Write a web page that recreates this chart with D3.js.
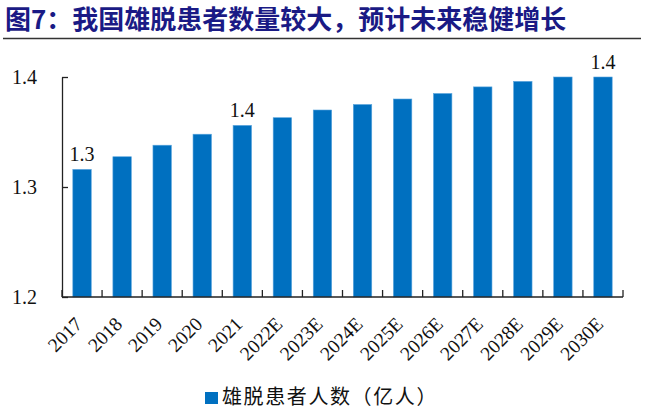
<!DOCTYPE html>
<html><head><meta charset="utf-8">
<script src="https://cdn.jsdelivr.net/npm/d3@7"></script>
<style>body{margin:0;background:#fff}svg{display:block}</style>
</head><body>
<script>
const categories = ["2017","2018","2019","2020","2021","2022E","2023E","2024E","2025E","2026E","2027E","2028E","2029E","2030E"];
const values = [1.316,1.3275,1.338,1.348,1.356,1.363,1.370,1.375,1.380,1.385,1.391,1.396,1.400,1.400];
const dataLabels = {"2017":"1.3","2021":"1.4","2030E":"1.4"};
const yTicks = [1.2,1.3,1.4];
const title = "图7：我国雄脱患者数量较大，预计未来稳健增长";
const seriesName = "雄脱患者人数（亿人）";

const W=649,H=411;
const svg=d3.select("body").append("svg").attr("width",W).attr("height",H);
const m={l:62,r:623,t:77,b:297};
const x=d3.scaleBand().domain(categories).range([m.l,m.r]).paddingInner(0.54).paddingOuter(0.27);
const y=d3.scaleLinear().domain([1.2,1.4]).range([m.b,m.t]);
const serif="'Liberation Serif','Times New Roman',serif";

svg.append("text").attr("x",5).attr("y",29).attr("font-family","'Noto Sans CJK SC',sans-serif")
  .attr("font-weight","bold").attr("font-size",26).attr("fill","#1a1a85").text(title);
svg.append("line").attr("x1",3).attr("x2",641).attr("y1",38.5).attr("y2",38.5).attr("stroke","#333").attr("stroke-width",1.5);

svg.append("g").selectAll("rect").data(values).join("rect")
  .attr("x",(d,i)=>x(categories[i])).attr("width",x.bandwidth())
  .attr("y",d=>y(d)).attr("height",d=>y(1.2)-y(d)).attr("fill","#0070C0")
  .attr("stroke","#5aa5dd").attr("stroke-width",0.6);

// y axis
const ya=svg.append("g").attr("transform",`translate(${m.l},0)`)
  .call(d3.axisLeft(y).tickValues(yTicks).tickSizeInner(-6).tickSizeOuter(0).tickFormat(d3.format(".1f")).tickPadding(25));
ya.select(".domain").attr("stroke","#222").attr("stroke-width",1.3);
ya.selectAll(".tick line").attr("stroke","#222").attr("stroke-width",1.3);
ya.selectAll("text").attr("font-family",serif).attr("font-size",20).attr("fill","#111");

// x axis
const xa=svg.append("g").attr("transform",`translate(0,${m.b})`);
xa.append("line").attr("x1",m.l).attr("x2",m.r).attr("stroke","#222").attr("stroke-width",1.3);
const step=(m.r-m.l)/categories.length;
xa.selectAll("line.tk").data(d3.range(categories.length+1)).join("line").attr("class","tk")
  .attr("x1",i=>m.l+i*step).attr("x2",i=>m.l+i*step).attr("y1",0).attr("y2",-7).attr("stroke","#222").attr("stroke-width",1.3);
xa.selectAll("text").data(categories).join("text")
  .attr("transform",d=>`translate(${x(d)+x.bandwidth()/2-8},19) rotate(-45)`)
  .attr("text-anchor","end").attr("dy","0.68em").attr("font-family",serif).attr("font-size",19.5).attr("fill","#111").text(d=>d);

// data labels
svg.append("g").selectAll("text").data(categories.filter(c=>dataLabels[c])).join("text")
  .attr("x",d=>x(d)+x.bandwidth()/2).attr("y",d=>y(values[categories.indexOf(d)])-8)
  .attr("text-anchor","middle").attr("font-family",serif).attr("font-size",20).attr("fill","#111").text(d=>dataLabels[d]);

// legend
svg.append("rect").attr("x",205).attr("y",392).attr("width",13).attr("height",12).attr("fill","#0070C0");
svg.append("text").attr("x",222).attr("y",404).attr("font-family","'Noto Sans CJK SC',sans-serif").attr("font-size",20).attr("letter-spacing",1.6).attr("fill","#111").text(seriesName);
</script>
</body></html>
